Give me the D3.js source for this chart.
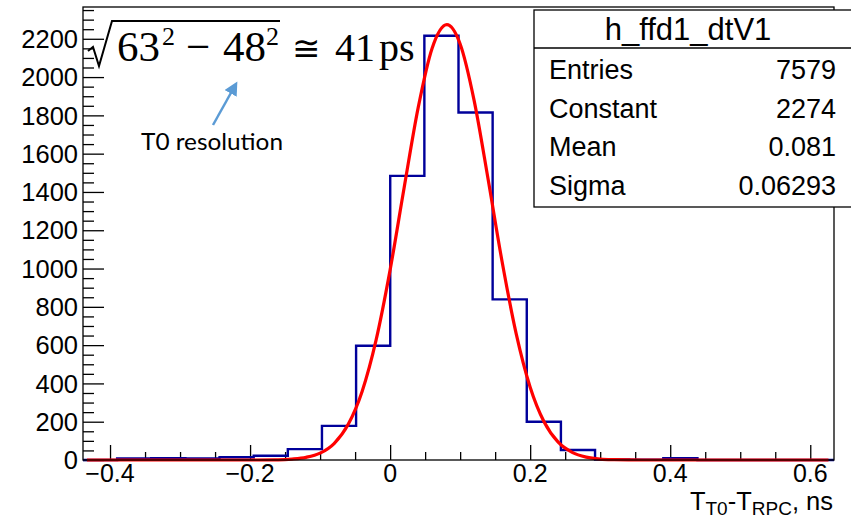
<!DOCTYPE html>
<html>
<head>
<meta charset="utf-8">
<script src="https://cdn.jsdelivr.net/npm/d3@7"></script>
<style>
  body { margin: 0; background: #fff; }
  svg { display: block; }
  text { font-family: "Liberation Sans", Arial, sans-serif; fill: #000; }
</style>
</head>
<body>
<svg id="chart"></svg>
<script>
(function() {
    'use strict';

    // histogram h_ffd1_dtV1 : 22 bins
    var binLow = -0.4386,
        binWidth = 0.04875;
    var counts = [0, 8, 9, 8, 14, 22, 57, 178, 597, 1484, 2216, 1815, 839, 200, 52, 3, 2, 10, 0, 0, 0, 0];

    // gaussian fit
    var fitX = [-0.433, -0.20, -0.16, -0.14, -0.12, -0.10, -0.08, -0.06, -0.04, -0.02, 0.00, 0.02, 0.04, 0.06, 0.081,
                0.10, 0.12, 0.14, 0.16, 0.18, 0.20, 0.22, 0.24, 0.26, 0.28, 0.30, 0.32, 0.36, 0.626];
    var fitY = [0, 0, 1, 5, 14, 36, 86, 185, 358, 627, 993, 1422, 1839, 2151, 2274,
                2173, 1877, 1465, 1034, 660, 380, 198, 93, 40, 15, 5, 2, 0, 0];

    var xTicks = [-0.4, -0.2, 0, 0.2, 0.4, 0.6];
    var yTicks = [0, 200, 400, 600, 800, 1000, 1200, 1400, 1600, 1800, 2000, 2200];

    var statsTitle = "h_ffd1_dtV1";
    var statsNames = ["Entries", "Constant", "Mean", "Sigma"];
    var statsValues = ["7579", "2274", "0.081", "0.06293"];

    var W = 851, H = 520,
        margin = {top: 7, right: 17, bottom: 60, left: 83},
        width = W - margin.left - margin.right,
        height = H - margin.top - margin.bottom;

    var svg = d3.select("#chart").attr("width", W).attr("height", H);
    var g = svg.append("g")
        .attr("transform", "translate(" + margin.left + "," + margin.top + ")");

    var x = d3.scaleLinear().domain([binLow, binLow + counts.length * binWidth]).range([0, width]);
    var y = d3.scaleLinear().domain([0, 2366]).range([height, 0]);

    // x axis : majors every 0.2, minors every 0.05
    var xMinor = d3.range(-0.4, 0.63, 0.05).filter(function(v) {
        return Math.abs(Math.round(v / 0.2) * 0.2 - v) > 1e-6;
    });
    var xAxis = g.append("g").attr("transform", "translate(0," + height + ")");
    xAxis.call(d3.axisTop(x).tickValues(xMinor).tickSize(8).tickFormat(""));
    xAxis.append("g").call(d3.axisTop(x).tickValues(xTicks).tickSize(15).tickFormat(""));
    xAxis.selectAll(".domain").remove();
    xAxis.selectAll("line").attr("stroke", "#000").attr("stroke-width", 1.3);
    xAxis.selectAll(".xlab").data(xTicks).enter().append("text")
        .attr("x", function(d) { return x(d); })
        .attr("y", 21.5)
        .attr("text-anchor", "middle")
        .style("font-size", "25px")
        .text(function(d) { return d === 0 ? "0" : d3.format(".1f")(d).replace("-", "\u2212"); });

    // y axis : majors every 200, minors every 50
    var yMinor = d3.range(50, 2366, 50).filter(function(v) { return v % 200 !== 0; });
    var yAxis = g.append("g");
    yAxis.call(d3.axisRight(y).tickValues(yMinor).tickSize(11).tickFormat(""));
    yAxis.append("g").call(d3.axisRight(y).tickValues(yTicks).tickSize(21).tickFormat(""));
    yAxis.selectAll(".domain").remove();
    yAxis.selectAll("line").attr("stroke", "#000").attr("stroke-width", 1.3);
    yAxis.selectAll(".ylab").data(yTicks).enter().append("text")
        .attr("x", -5)
        .attr("y", function(d) { return y(d); })
        .attr("dy", "0.36em")
        .attr("text-anchor", "end")
        .style("font-size", "25.5px")
        .text(function(d) { return d; });

    // histogram outline
    var steps = [[binLow, 0]].concat(counts.map(function(c, i) { return [binLow + i * binWidth, c]; }));
    steps.push([binLow + counts.length * binWidth, counts[counts.length - 1]]);
    g.append("path")
        .datum(steps)
        .attr("fill", "none")
        .attr("stroke", "#00009a")
        .attr("stroke-width", 2.4)
        .attr("d", d3.line()
            .x(function(d) { return x(d[0]); })
            .y(function(d) { return y(d[1]); })
            .curve(d3.curveStepAfter));

    // fit
    g.append("path")
        .datum(fitX.map(function(v, i) { return [v, fitY[i]]; }))
        .attr("fill", "none")
        .attr("stroke", "#ff0000")
        .attr("stroke-width", 3.2)
        .attr("stroke-linejoin", "round")
        .attr("d", d3.line()
            .x(function(d) { return x(d[0]); })
            .y(function(d) { return y(d[1]); })
            .curve(d3.curveMonotoneX));

    // frame
    g.append("rect")
        .attr("width", width).attr("height", height)
        .attr("fill", "none").attr("stroke", "#000").attr("stroke-width", 1.3);

    // axis title T_T0-T_RPC, ns
    var xt = svg.append("text")
        .attr("x", 833).attr("y", 510)
        .attr("text-anchor", "end")
        .style("font-size", "25.5px");
    xt.append("tspan").text("T");
    xt.append("tspan").attr("dy", 4.5).style("font-size", "19px").text("T0");
    xt.append("tspan").attr("dy", -4.5).text("-T");
    xt.append("tspan").attr("dy", 4.5).style("font-size", "19px").text("RPC");
    xt.append("tspan").attr("dy", -4.5).text(", ns");

    // stats box
    var box = svg.append("g").attr("transform", "translate(534,10)");
    box.append("rect")
        .attr("width", 330).attr("height", 197)
        .attr("fill", "#fff").attr("stroke", "#000").attr("stroke-width", 1.3);
    box.append("line")
        .attr("x1", 0).attr("x2", 330).attr("y1", 38).attr("y2", 38)
        .attr("stroke", "#000").attr("stroke-width", 1.3);
    box.append("text")
        .attr("x", 154).attr("y", 30)
        .attr("text-anchor", "middle")
        .style("font-size", "31px")
        .text(statsTitle);
    statsNames.forEach(function(n, i) {
        box.append("text")
            .attr("x", 15).attr("y", 69 + i * 38.5)
            .style("font-size", "27px")
            .text(n);
        box.append("text")
            .attr("x", 302).attr("y", 69 + i * 38.5)
            .attr("text-anchor", "end")
            .style("font-size", "27px")
            .text(statsValues[i]);
    });

    // annotation: sqrt(63^2 - 48^2) ~= 41 ps
    var ann = svg.append("g");
    ann.append("path")
        .attr("d", "M88,51 L93,47 L99,66 L112,21 L280,21")
        .attr("fill", "none").attr("stroke", "#000").attr("stroke-width", 2);
    function serif(str, xp, yp, fs) {
        return ann.append("text")
            .attr("x", xp).attr("y", yp)
            .style("font-family", "'Liberation Serif', 'Times New Roman', serif")
            .style("font-size", fs + "px")
            .text(str);
    }
    serif("63", 117, 61, 43);
    serif("2", 162, 45, 26);
    serif("\u2212", 186, 61, 43);
    serif("48", 223, 61, 43);
    serif("2", 266, 45, 26);
    serif("\u2245", 292, 60, 34);
    serif("41", 335, 61, 40);
    serif("ps", 379, 61, 40);

    // T0 resolution + arrow
    svg.append("defs").append("marker")
        .attr("id", "ah")
        .attr("viewBox", "0 0 10 10")
        .attr("refX", 2).attr("refY", 5)
        .attr("markerWidth", 5.5).attr("markerHeight", 5.5)
        .attr("orient", "auto")
        .append("path").attr("d", "M0,0 L10,5 L0,10 z").attr("fill", "#5b9bd5");
    svg.append("line")
        .attr("x1", 213).attr("y1", 125).attr("x2", 232).attr("y2", 91)
        .attr("stroke", "#5b9bd5").attr("stroke-width", 2.5)
        .attr("marker-end", "url(#ah)");
    svg.append("text")
        .attr("x", 141).attr("y", 150)
        .style("font-family", "Lato, 'Open Sans', sans-serif")
        .style("font-size", "23px")
        .attr("textLength", 142).attr("lengthAdjust", "spacingAndGlyphs")
        .text("T0 resolution");
})();
</script>
</body>
</html>
